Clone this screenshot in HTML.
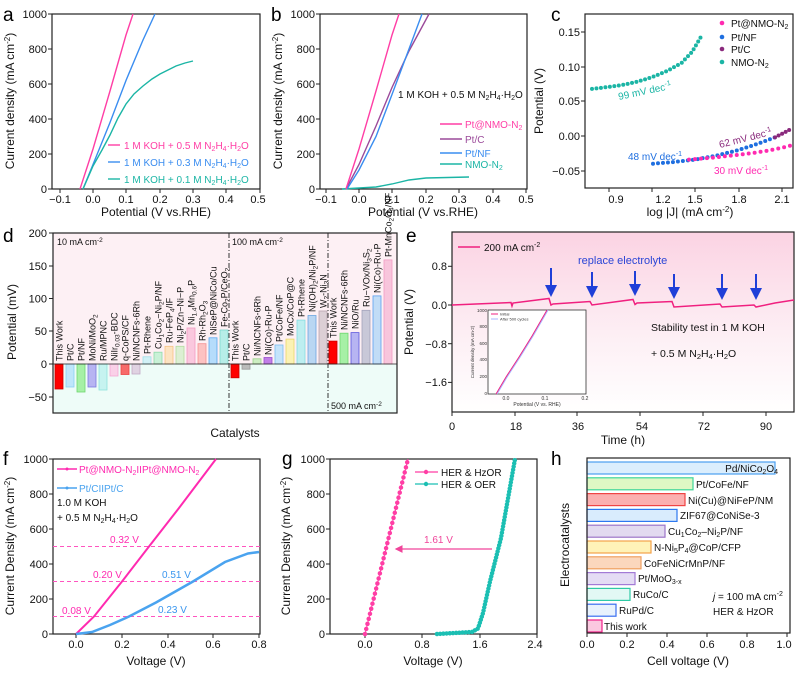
<!DOCTYPE html>
<html><head><meta charset="utf-8"><style>
html,body{margin:0;padding:0;background:#fff}
svg{display:block;font-family:"Liberation Sans",Arial,sans-serif}
.t{font-size:11px;fill:#111}
.ti{font-size:12px;fill:#111}
.pl{font-size:19px;fill:#000}
.s{font-size:10px}
.bl{font-size:9px;fill:#111}
</style></head><body>
<svg width="797" height="673" viewBox="0 0 797 673" xmlns="http://www.w3.org/2000/svg">
<defs>
<linearGradient id="eg" x1="0" y1="0" x2="0" y2="1"><stop offset="0" stop-color="#fbd3e3"/><stop offset="0.6" stop-color="#fdf0f5"/><stop offset="1" stop-color="#ffffff"/></linearGradient>
<marker id="ah" markerWidth="6" markerHeight="6" refX="5" refY="3" orient="auto"><path d="M0,0 L6,3 L0,6 z" fill="#1f3fd8"/></marker>
<marker id="ahp" markerWidth="6" markerHeight="6" refX="5" refY="3" orient="auto"><path d="M0,0 L6,3 L0,6 z" fill="#f0449a"/></marker>
</defs>

<!-- ============ Panel a ============ -->
<text class="pl" x="3" y="21">a</text>
<rect x="52" y="14" width="208" height="175" fill="none" stroke="#222" stroke-width="1.2"/>
<g stroke="#222"><line x1="60" y1="189" x2="60" y2="193"/><line x1="93" y1="189" x2="93" y2="193"/><line x1="126" y1="189" x2="126" y2="193"/><line x1="160" y1="189" x2="160" y2="193"/><line x1="193" y1="189" x2="193" y2="193"/><line x1="226" y1="189" x2="226" y2="193"/><line x1="260" y1="189" x2="260" y2="193"/>
<line x1="48" y1="189" x2="52" y2="189"/><line x1="48" y1="154" x2="52" y2="154"/><line x1="48" y1="119" x2="52" y2="119"/><line x1="48" y1="84" x2="52" y2="84"/><line x1="48" y1="49" x2="52" y2="49"/><line x1="48" y1="14" x2="52" y2="14"/></g>
<g class="t" text-anchor="middle"><text x="60" y="203">−0.1</text><text x="93" y="203">0.0</text><text x="126" y="203">0.1</text><text x="160" y="203">0.2</text><text x="193" y="203">0.3</text><text x="226" y="203">0.4</text><text x="258" y="203">0.5</text></g>
<g class="t" text-anchor="end"><text x="47" y="193">0</text><text x="47" y="158">200</text><text x="47" y="123">400</text><text x="47" y="88">600</text><text x="47" y="53">800</text><text x="47" y="18">1000</text></g>
<text class="ti" x="156" y="216" text-anchor="middle">Potential (V vs.RHE)</text>
<text class="ti" transform="translate(14,101) rotate(-90)" text-anchor="middle">Current density (mA cm<tspan font-size="8" dy="-4">-2</tspan><tspan dy="4">)</tspan></text>
<polyline fill="none" stroke="#ff3ea5" stroke-width="1.4" points="80,189 93,149 110,91 126,35 133,14"/>
<polyline fill="none" stroke="#3a8df0" stroke-width="1.4" points="83,189 93,164.5 110,122.5 126,80.5 143,40 155,14"/>
<polyline fill="none" stroke="#1bb5a5" stroke-width="1.4" points="83,189 93,166 102,150 110,135 118,118 126,104 134,94 143,86 152,79 160,74 168,70 176,66 185,63 193,61"/>
<line x1="108" y1="145" x2="120" y2="145" stroke="#ff3ea5" stroke-width="1.4"/>
<line x1="108" y1="162" x2="120" y2="162" stroke="#3a8df0" stroke-width="1.4"/>
<line x1="108" y1="179" x2="120" y2="179" stroke="#1bb5a5" stroke-width="1.4"/>
<text class="s" x="124" y="149" fill="#ff3ea5">1 M KOH + 0.5 M N<tspan font-size="7" dy="2">2</tspan><tspan dy="-2">H</tspan><tspan font-size="7" dy="2">4</tspan><tspan dy="-2">·H</tspan><tspan font-size="7" dy="2">2</tspan><tspan dy="-2">O</tspan></text>
<text class="s" x="124" y="166" fill="#3a8df0">1 M KOH + 0.3 M N<tspan font-size="7" dy="2">2</tspan><tspan dy="-2">H</tspan><tspan font-size="7" dy="2">4</tspan><tspan dy="-2">·H</tspan><tspan font-size="7" dy="2">2</tspan><tspan dy="-2">O</tspan></text>
<text class="s" x="124" y="183" fill="#1bb5a5">1 M KOH + 0.1 M N<tspan font-size="7" dy="2">2</tspan><tspan dy="-2">H</tspan><tspan font-size="7" dy="2">4</tspan><tspan dy="-2">·H</tspan><tspan font-size="7" dy="2">2</tspan><tspan dy="-2">O</tspan></text>

<!-- ============ Panel b ============ -->
<text class="pl" x="271" y="21">b</text>
<rect x="320" y="14" width="207" height="175" fill="none" stroke="#222" stroke-width="1.2"/>
<g stroke="#222"><line x1="326" y1="189" x2="326" y2="193"/><line x1="359" y1="189" x2="359" y2="193"/><line x1="392" y1="189" x2="392" y2="193"/><line x1="426" y1="189" x2="426" y2="193"/><line x1="459" y1="189" x2="459" y2="193"/><line x1="493" y1="189" x2="493" y2="193"/><line x1="526" y1="189" x2="526" y2="193"/>
<line x1="316" y1="189" x2="320" y2="189"/><line x1="316" y1="154" x2="320" y2="154"/><line x1="316" y1="119" x2="320" y2="119"/><line x1="316" y1="84" x2="320" y2="84"/><line x1="316" y1="49" x2="320" y2="49"/><line x1="316" y1="14" x2="320" y2="14"/></g>
<g class="t" text-anchor="middle"><text x="326" y="203">−0.1</text><text x="359" y="203">0.0</text><text x="392" y="203">0.1</text><text x="426" y="203">0.2</text><text x="459" y="203">0.3</text><text x="493" y="203">0.4</text><text x="526" y="203">0.5</text></g>
<g class="t" text-anchor="end"><text x="315" y="193">0</text><text x="315" y="158">200</text><text x="315" y="123">400</text><text x="315" y="88">600</text><text x="315" y="53">800</text><text x="315" y="18">1000</text></g>
<text class="ti" x="423" y="216" text-anchor="middle">Potential (V vs.RHE)</text>
<text class="ti" transform="translate(282,101) rotate(-90)" text-anchor="middle">Current density (mA cm<tspan font-size="8" dy="-4">-2</tspan><tspan dy="4">)</tspan></text>
<polyline fill="none" stroke="#1bb5a5" stroke-width="1.4" points="342,189 376,187 392,184 409,180 426,178 469,177"/>
<polyline fill="none" stroke="#9b4a9a" stroke-width="1.4" points="346,189 359,164.5 376,126 392,87.5 409,51 429,14"/>
<polyline fill="none" stroke="#3a8df0" stroke-width="1.4" points="347,189 359,170 376,136.5 392,94.5 409,49 422,14"/>
<polyline fill="none" stroke="#ff3ea5" stroke-width="1.4" points="346,189 359,149 376,91 392,35 399,14"/>
<text class="s" x="398" y="98" fill="#111">1 M KOH + 0.5 M N<tspan font-size="7" dy="2">2</tspan><tspan dy="-2">H</tspan><tspan font-size="7" dy="2">4</tspan><tspan dy="-2">·H</tspan><tspan font-size="7" dy="2">2</tspan><tspan dy="-2">O</tspan></text>
<line x1="440" y1="124" x2="462" y2="124" stroke="#ff3ea5" stroke-width="1.4"/>
<line x1="440" y1="139" x2="462" y2="139" stroke="#9b4a9a" stroke-width="1.4"/>
<line x1="440" y1="153" x2="462" y2="153" stroke="#3a8df0" stroke-width="1.4"/>
<line x1="440" y1="164" x2="462" y2="164" stroke="#1bb5a5" stroke-width="1.4"/>
<text class="s" x="465" y="128" fill="#ff3ea5">Pt@NMO-N<tspan font-size="7" dy="2">2</tspan></text>
<text class="s" x="465" y="143" fill="#9b4a9a">Pt/C</text>
<text class="s" x="465" y="157" fill="#3a8df0">Pt/NF</text>
<text class="s" x="465" y="168" fill="#1bb5a5">NMO-N<tspan font-size="7" dy="2">2</tspan></text>

<!-- ============ Panel c ============ -->
<text class="pl" x="551" y="21">c</text>
<rect x="585" y="14" width="208" height="174" fill="none" stroke="#222" stroke-width="1.2"/>
<g stroke="#222"><line x1="609" y1="188" x2="609" y2="192"/><line x1="652" y1="188" x2="652" y2="192"/><line x1="695" y1="188" x2="695" y2="192"/><line x1="739" y1="188" x2="739" y2="192"/><line x1="782" y1="188" x2="782" y2="192"/>
<line x1="581" y1="32" x2="585" y2="32"/><line x1="581" y1="67" x2="585" y2="67"/><line x1="581" y1="101" x2="585" y2="101"/><line x1="581" y1="136" x2="585" y2="136"/><line x1="581" y1="171" x2="585" y2="171"/></g>
<g class="t" text-anchor="middle"><text x="616" y="203">0.9</text><text x="663" y="203">1.2</text><text x="695" y="203">1.5</text><text x="739" y="203">1.8</text><text x="782" y="203">2.1</text></g>
<g class="t" text-anchor="end"><text x="580" y="36">0.15</text><text x="580" y="71">0.10</text><text x="580" y="105">0.05</text><text x="580" y="140">0.00</text><text x="580" y="175">−0.05</text></g>
<text class="ti" x="690" y="216" text-anchor="middle">log |J| (mA cm<tspan font-size="8" dy="-4">-2</tspan><tspan dy="4">)</tspan></text>
<text class="ti" transform="translate(543,101) rotate(-90)" text-anchor="middle">Potential (V)</text>
<polyline fill="none" stroke="#1bb5a5" stroke-width="4" stroke-linecap="round" stroke-dasharray="0 4.5" points="592,88.9 608,87 624,84.7 638,81.5 652.5,77 667,71 681.5,63 692,52 701.7,35.5"/>
<polyline fill="none" stroke="#1f6fe0" stroke-width="4" stroke-linecap="round" stroke-dasharray="0 5" points="653,163.7 674,162 695,159.6 717,155.5 739,149.9 757,144 774.8,137.4"/>
<polyline fill="none" stroke="#8a2a7d" stroke-width="4" stroke-linecap="round" stroke-dasharray="0 4" points="775,137.4 783.5,133 792,128.4"/>
<polyline fill="none" stroke="#ff2ab0" stroke-width="4" stroke-linecap="round" stroke-dasharray="0 6" points="689,159.6 714,157.5 739,154.7 754,152.8 768,150.6 781,148 793,145"/>
<text class="s" fill="#1bb5a5" transform="translate(619,100) rotate(-12)">99 mV dec<tspan font-size="7" dy="-4">-1</tspan></text>
<text class="s" fill="#1f6fe0" x="628" y="160">48 mV dec<tspan font-size="7" dy="-4">-1</tspan></text>
<text class="s" fill="#8a2a7d" transform="translate(720,148) rotate(-14)">62 mV dec<tspan font-size="7" dy="-4">-1</tspan></text>
<text class="s" fill="#ff2ab0" x="714" y="174">30 mV dec<tspan font-size="7" dy="-4">-1</tspan></text>
<circle cx="722" cy="23" r="2.3" fill="#ff2ab0"/><circle cx="722" cy="37" r="2.3" fill="#1f6fe0"/><circle cx="722" cy="49" r="2.3" fill="#8a2a7d"/><circle cx="722" cy="62" r="2.3" fill="#1bb5a5"/>
<text class="s" x="731" y="27" fill="#111">Pt@NMO-N<tspan font-size="7" dy="2">2</tspan></text>
<text class="s" x="731" y="41" fill="#111">Pt/NF</text>
<text class="s" x="731" y="53" fill="#111">Pt/C</text>
<text class="s" x="731" y="66" fill="#111">NMO-N<tspan font-size="7" dy="2">2</tspan></text>

<!-- ============ Panel d ============ -->
<text class="pl" x="3" y="242">d</text>
<rect x="53" y="233" width="344" height="131" fill="#fdf0f4"/>
<rect x="53" y="364" width="344" height="49" fill="#eefcf8"/>
<g stroke-width="0.8">
<rect x="55" y="364" width="8" height="25" fill="#f00" stroke="#c00"/>
<rect x="66" y="364" width="8" height="23" fill="#bfe6fb" stroke="#8cd0f4"/>
<rect x="77" y="364" width="8" height="28" fill="#a6f0a6" stroke="#6fd66f"/>
<rect x="88" y="364" width="8" height="23" fill="#b7b4f2" stroke="#7c78e0"/>
<rect x="99" y="364" width="8" height="26" fill="#c6f3f0" stroke="#8fe3dd"/>
<rect x="110" y="364" width="8" height="12" fill="#fad0e8" stroke="#f4a6d2"/>
<rect x="121" y="364" width="8" height="10.5" fill="#f76a6a" stroke="#e44"/>
<rect x="132" y="364" width="8" height="10" fill="#e0d2e2" stroke="#c2a9c6"/>
<rect x="143" y="356.8" width="8" height="7.2" fill="#d2f1f6" stroke="#9fdfe8"/>
<rect x="154" y="352.2" width="8" height="11.8" fill="#c9f1d7" stroke="#8fdcaa"/>
<rect x="165" y="346.3" width="8" height="17.7" fill="#fce3c2" stroke="#f6c384"/>
<rect x="176" y="346.3" width="8" height="17.7" fill="#dcefd3" stroke="#b3dca0"/>
<rect x="187" y="328" width="8" height="36" fill="#fac8de" stroke="#f39cc2"/>
<rect x="198" y="343.7" width="8" height="20.3" fill="#fcc2c2" stroke="#f49090"/>
<rect x="209" y="337.8" width="8" height="26.2" fill="#b5dcfb" stroke="#5aa8f0"/>
<rect x="220" y="330" width="8" height="34" fill="#b7eee8" stroke="#7cd9cd"/>
<rect x="231" y="364" width="8" height="13.8" fill="#f00" stroke="#c00"/>
<rect x="242" y="364" width="8" height="5.2" fill="#bbbbbb" stroke="#999"/>
<rect x="253" y="358.8" width="8" height="5.2" fill="#cdeec2" stroke="#9ad38a"/>
<rect x="264" y="357.5" width="8" height="6.5" fill="#c27ee8" stroke="#9a4fd0"/>
<rect x="275" y="345" width="8" height="19" fill="#c4e4fb" stroke="#7cbff2"/>
<rect x="286" y="339.1" width="8" height="24.9" fill="#fbf2b4" stroke="#ecd76a"/>
<rect x="297" y="320.1" width="8" height="43.9" fill="#bdeef0" stroke="#85dce0"/>
<rect x="308" y="315.5" width="8" height="48.5" fill="#b9d6f2" stroke="#6ca6e0"/>
<rect x="319" y="311" width="8" height="53" fill="#dccfd5" stroke="#b9a4ae"/>
<rect x="329" y="341.1" width="8" height="22.9" fill="#f00" stroke="#c00"/>
<rect x="340" y="333.2" width="8" height="30.8" fill="#a6f0a6" stroke="#6fd66f"/>
<rect x="351" y="332.6" width="8" height="31.4" fill="#b7b4f2" stroke="#5b55dd"/>
<rect x="362" y="310.3" width="8" height="53.7" fill="#c8c8d8" stroke="#a3a3bb"/>
<rect x="373" y="295.9" width="8" height="68.1" fill="#c1dcf6" stroke="#5aa0f0"/>
<rect x="384" y="259.9" width="8" height="104.1" fill="#f8c5dc" stroke="#f29cc2"/>
</g>
<line x1="53" y1="364" x2="397" y2="364" stroke="#222" stroke-width="0.8"/>
<line x1="229" y1="233" x2="229" y2="413" stroke="#333" stroke-dasharray="5 2 1 2"/>
<line x1="328" y1="233" x2="328" y2="413" stroke="#333" stroke-dasharray="5 2 1 2"/>
<rect x="53" y="233" width="344" height="180" fill="none" stroke="#222" stroke-width="1.2"/>
<g stroke="#222"><line x1="49" y1="233" x2="53" y2="233"/><line x1="49" y1="266" x2="53" y2="266"/><line x1="49" y1="298.5" x2="53" y2="298.5"/><line x1="49" y1="331" x2="53" y2="331"/><line x1="49" y1="364" x2="53" y2="364"/><line x1="49" y1="397" x2="53" y2="397"/></g>
<g class="t" text-anchor="end"><text x="47" y="237">200</text><text x="47" y="270">150</text><text x="47" y="302.5">100</text><text x="47" y="335">50</text><text x="47" y="368">0</text><text x="47" y="401">−50</text></g>
<text class="ti" transform="translate(16,322) rotate(-90)" text-anchor="middle">Potential (mV)</text>
<text class="ti" x="235" y="437" text-anchor="middle">Catalysts</text>
<text class="bl" x="57" y="245">10 mA cm<tspan font-size="6.5" dy="-3">-2</tspan></text>
<text class="bl" x="232" y="245">100 mA cm<tspan font-size="6.5" dy="-3">-2</tspan></text>
<text class="bl" x="331" y="409">500 mA cm<tspan font-size="6.5" dy="-3">-2</tspan></text>
<g class="bl">
<text transform="translate(62.5,361) rotate(-90)">This Work</text>
<text transform="translate(73.5,361) rotate(-90)">Pt/C</text>
<text transform="translate(84.5,361) rotate(-90)">Pt/NF</text>
<text transform="translate(95.5,361) rotate(-90)">MoNi/MoO<tspan font-size="6.5" dy="2">2</tspan></text>
<text transform="translate(106.5,361) rotate(-90)">Ru/MPNC</text>
<text transform="translate(117.5,361) rotate(-90)">NiIr<tspan font-size="6.5" dy="2">0.03</tspan><tspan dy="-2">-BDC</tspan></text>
<text transform="translate(128.5,361) rotate(-90)">q-CoPS/CF</text>
<text transform="translate(139.5,361) rotate(-90)">Ni/NCNFs-6Rh</text>
<text transform="translate(150.5,354) rotate(-90)">Pt-Rhene</text>
<text transform="translate(161.5,349) rotate(-90)">Cu<tspan font-size="6.5" dy="2">1</tspan><tspan dy="-2">Co</tspan><tspan font-size="6.5" dy="2">2</tspan><tspan dy="-2">−Ni</tspan><tspan font-size="6.5" dy="2">2</tspan><tspan dy="-2">P/NF</tspan></text>
<text transform="translate(172.5,343) rotate(-90)">Ru-FeP<tspan font-size="6.5" dy="2">4</tspan><tspan dy="-2">/IF</tspan></text>
<text transform="translate(183.5,343) rotate(-90)">Ni<tspan font-size="6.5" dy="2">2</tspan><tspan dy="-2">P/Zn−Ni−P</tspan></text>
<text transform="translate(194.5,325) rotate(-90)">Ni<tspan font-size="6.5" dy="2">1.4</tspan><tspan dy="-2">Mn</tspan><tspan font-size="6.5" dy="2">0.6</tspan><tspan dy="-2">P</tspan></text>
<text transform="translate(205.5,341) rotate(-90)">Rh-Rh<tspan font-size="6.5" dy="2">2</tspan><tspan dy="-2">O</tspan><tspan font-size="6.5" dy="2">3</tspan></text>
<text transform="translate(216.5,335) rotate(-90)">NiSeP@NiCo/Cu</text>
<text transform="translate(227.5,327) rotate(-90)">Fe-Co<tspan font-size="6.5" dy="2">2</tspan><tspan dy="-2">P/CeO</tspan><tspan font-size="6.5" dy="2">2</tspan></text>
<text transform="translate(238.5,361) rotate(-90)">This Work</text>
<text transform="translate(249.5,361) rotate(-90)">Pt/C</text>
<text transform="translate(260.5,356) rotate(-90)">Ni/NCNFs-6Rh</text>
<text transform="translate(271.5,355) rotate(-90)">Ni(Co)-Ru-P</text>
<text transform="translate(282.5,342) rotate(-90)">Pt/CoFe/NF</text>
<text transform="translate(293.5,336) rotate(-90)">MoCx/CoP@C</text>
<text transform="translate(304.5,317) rotate(-90)">Pt-Rhene</text>
<text transform="translate(315.5,312) rotate(-90)">Ni(OH)<tspan font-size="6.5" dy="2">2</tspan><tspan dy="-2">/Ni</tspan><tspan font-size="6.5" dy="2">2</tspan><tspan dy="-2">P/NF</tspan></text>
<text transform="translate(326.5,308) rotate(-90)">W<tspan font-size="6.5" dy="2">2</tspan><tspan dy="-2">-Ni</tspan><tspan font-size="6.5" dy="2">3</tspan><tspan dy="-2">N</tspan></text>
<text transform="translate(336.5,338) rotate(-90)">This Work</text>
<text transform="translate(347.5,330) rotate(-90)">Ni/NCNFs-6Rh</text>
<text transform="translate(358.5,329) rotate(-90)">NiO/Ru</text>
<text transform="translate(369.5,307) rotate(-90)">Ru−VOx/Ni<tspan font-size="6.5" dy="2">3</tspan><tspan dy="-2">S</tspan><tspan font-size="6.5" dy="2">2</tspan></text>
<text transform="translate(380.5,293) rotate(-90)">Ni(Co)-Ru-P</text>
<text transform="translate(391.5,257) rotate(-90)">Pt-MnCo<tspan font-size="6.5" dy="2">2</tspan><tspan dy="-2">O</tspan><tspan font-size="6.5" dy="2">4</tspan><tspan dy="-2">/NF</tspan></text>
</g>

<!-- ============ Panel e ============ -->
<text class="pl" x="406" y="242">e</text>
<rect x="452" y="232" width="342" height="180" fill="url(#eg)"/>
<rect x="452" y="232" width="342" height="180" fill="none" stroke="#222" stroke-width="1.2"/>
<g stroke="#222"><line x1="452" y1="412" x2="452" y2="416"/><line x1="515" y1="412" x2="515" y2="416"/><line x1="577" y1="412" x2="577" y2="416"/><line x1="640" y1="412" x2="640" y2="416"/><line x1="703" y1="412" x2="703" y2="416"/><line x1="766" y1="412" x2="766" y2="416"/>
<line x1="448" y1="266.3" x2="452" y2="266.3"/><line x1="448" y1="305" x2="452" y2="305"/><line x1="448" y1="343.7" x2="452" y2="343.7"/><line x1="448" y1="382.4" x2="452" y2="382.4"/></g>
<g class="t" text-anchor="middle"><text x="452" y="430">0</text><text x="516" y="430">18</text><text x="578" y="430">36</text><text x="642" y="430">54</text><text x="704" y="430">72</text><text x="766" y="430">90</text></g>
<g class="t" text-anchor="end"><text x="447" y="270">0.8</text><text x="447" y="309">0.0</text><text x="447" y="348">−0.8</text><text x="447" y="386">−1.6</text></g>
<text class="ti" x="623" y="444" text-anchor="middle">Time (h)</text>
<text class="ti" transform="translate(413,322) rotate(-90)" text-anchor="middle">Potential (V)</text>
<polyline fill="none" stroke="#f0207f" stroke-width="1.5" points="452,305 511,302.5 512,306 513,303 549,298.5 551,305 553,304 590,301.5 592,305 633,299.5 635,304.5 637,303 672,301.5 674,307 720,304 722,307 754,305 756,307 775,303 794,300"/>
<g stroke="#1f3fd8" stroke-width="2" marker-end="url(#ah)"><line x1="551" y1="268" x2="551" y2="295"/><line x1="592" y1="272" x2="592" y2="296"/><line x1="635" y1="271" x2="635" y2="294"/><line x1="674" y1="274" x2="674" y2="297"/><line x1="722" y1="274" x2="722" y2="298"/><line x1="756" y1="274" x2="756" y2="298"/></g>
<text x="578" y="264" font-size="11" fill="#2a45d6">replace electrolyte</text>
<line x1="458" y1="247" x2="480" y2="247" stroke="#f0207f" stroke-width="1.5"/>
<text x="484" y="251" font-size="10" fill="#111">200 mA cm<tspan font-size="7" dy="-4">-2</tspan></text>
<text x="651" y="331" font-size="10.5" fill="#111">Stability test  in 1 M KOH</text>
<text x="651" y="357" font-size="10.5" fill="#111">+ 0.5 M N<tspan font-size="7.5" dy="2">2</tspan><tspan dy="-2">H</tspan><tspan font-size="7.5" dy="2">4</tspan><tspan dy="-2">·H</tspan><tspan font-size="7.5" dy="2">2</tspan><tspan dy="-2">O</tspan></text>
<rect x="488" y="310" width="98" height="84" fill="#fff" stroke="#333" stroke-width="0.8"/>
<polyline fill="none" stroke="#aab4ff" stroke-width="1.2" points="497,394 507,377 520,357 533,336 548,310"/>
<polyline fill="none" stroke="#f0207f" stroke-width="0.9" points="496,394 506,377 519,357 532,336 547,310"/>
<g font-size="5" fill="#333" text-anchor="middle"><text x="506" y="400">0.0</text><text x="545" y="400">0.1</text><text x="585" y="400">0.2</text><text x="537" y="406">Potential (V vs. RHE)</text></g>
<g font-size="4.5" fill="#333" text-anchor="end"><text x="487" y="395">0</text><text x="487" y="378">200</text><text x="487" y="361">400</text><text x="487" y="345">600</text><text x="487" y="328">800</text><text x="487" y="312">1000</text></g>
<text font-size="4.5" fill="#333" transform="translate(474,352) rotate(-90)" text-anchor="middle">Current density (mA cm-2)</text>
<line x1="491" y1="314" x2="498" y2="314" stroke="#f0207f"/><text x="500" y="315.5" font-size="4" fill="#333">Initial</text>
<line x1="491" y1="319" x2="498" y2="319" stroke="#aab4ff"/><text x="500" y="320.5" font-size="4" fill="#333">After 500 cycles</text>

<!-- ============ Panel f ============ -->
<text class="pl" x="3" y="465">f</text>
<rect x="53" y="459" width="207" height="175" fill="none" stroke="#222" stroke-width="1.2"/>
<g stroke="#222"><line x1="76" y1="634" x2="76" y2="638"/><line x1="122" y1="634" x2="122" y2="638"/><line x1="168" y1="634" x2="168" y2="638"/><line x1="213" y1="634" x2="213" y2="638"/><line x1="259" y1="634" x2="259" y2="638"/>
<line x1="49" y1="634" x2="53" y2="634"/><line x1="49" y1="599" x2="53" y2="599"/><line x1="49" y1="564" x2="53" y2="564"/><line x1="49" y1="529" x2="53" y2="529"/><line x1="49" y1="494" x2="53" y2="494"/><line x1="49" y1="459" x2="53" y2="459"/></g>
<g class="t" text-anchor="middle"><text x="76" y="648">0.0</text><text x="122" y="648">0.2</text><text x="168" y="648">0.4</text><text x="213" y="648">0.6</text><text x="259" y="648">0.8</text></g>
<g class="t" text-anchor="end"><text x="48" y="638">0</text><text x="48" y="603">200</text><text x="48" y="568">400</text><text x="48" y="533">600</text><text x="48" y="498">800</text><text x="48" y="463">1000</text></g>
<text class="ti" x="156" y="665" text-anchor="middle">Voltage (V)</text>
<text class="ti" transform="translate(14,546) rotate(-90)" text-anchor="middle">Current Density (mA cm<tspan font-size="8" dy="-4">-2</tspan><tspan dy="4">)</tspan></text>
<g stroke="#ff55c0" stroke-dasharray="4 3" stroke-width="1"><line x1="53" y1="616.5" x2="260" y2="616.5"/><line x1="53" y1="581.5" x2="260" y2="581.5"/><line x1="53" y1="546.5" x2="260" y2="546.5"/></g>
<polyline fill="none" stroke="#ff2ab0" stroke-width="2" points="76,634 94,616.5 122,581.5 149,546.5 179,508 216,459"/>
<polyline fill="none" stroke="#4aa3ef" stroke-width="2.5" points="76,634 92,632 110,625 129,616.5 156,602.5 193,581.5 225,562 248,553.5 259,552"/>
<g class="s"><text x="110" y="543" fill="#ff2ab0">0.32 V</text><text x="93" y="578" fill="#ff2ab0">0.20 V</text><text x="62" y="614" fill="#ff2ab0">0.08 V</text><text x="162" y="578" fill="#3a96ee">0.51 V</text><text x="158" y="613" fill="#3a96ee">0.23 V</text></g>
<line x1="57" y1="469" x2="77" y2="469" stroke="#ff2ab0" stroke-width="1.5"/><circle cx="67" cy="469" r="1.5" fill="#ff2ab0"/>
<line x1="57" y1="488" x2="77" y2="488" stroke="#4aa3ef" stroke-width="1.5"/><circle cx="67" cy="488" r="1.5" fill="#4aa3ef"/>
<text class="s" x="79" y="473" fill="#ff2ab0">Pt@NMO-N<tspan font-size="7" dy="2">2</tspan><tspan dy="-2">IIPt@NMO-N</tspan><tspan font-size="7" dy="2">2</tspan></text>
<text class="s" x="79" y="492" fill="#4aa3ef">Pt/CIIPt/C</text>
<text class="s" x="57" y="506" fill="#111">1.0 M KOH</text>
<text class="s" x="57" y="521" fill="#111">+ 0.5 M N<tspan font-size="7" dy="2">2</tspan><tspan dy="-2">H</tspan><tspan font-size="7" dy="2">4</tspan><tspan dy="-2">·H</tspan><tspan font-size="7" dy="2">2</tspan><tspan dy="-2">O</tspan></text>

<!-- ============ Panel g ============ -->
<text class="pl" x="282" y="465">g</text>
<rect x="330" y="459" width="207" height="175" fill="none" stroke="#222" stroke-width="1.2"/>
<g stroke="#222"><line x1="365" y1="634" x2="365" y2="638"/><line x1="422" y1="634" x2="422" y2="638"/><line x1="480" y1="634" x2="480" y2="638"/><line x1="537" y1="634" x2="537" y2="638"/>
<line x1="326" y1="634" x2="330" y2="634"/><line x1="326" y1="599" x2="330" y2="599"/><line x1="326" y1="564" x2="330" y2="564"/><line x1="326" y1="529" x2="330" y2="529"/><line x1="326" y1="494" x2="330" y2="494"/><line x1="326" y1="459" x2="330" y2="459"/></g>
<g class="t" text-anchor="middle"><text x="365" y="648">0.0</text><text x="422" y="648">0.8</text><text x="480" y="648">1.6</text><text x="535" y="648">2.4</text></g>
<g class="t" text-anchor="end"><text x="325" y="638">0</text><text x="325" y="603">200</text><text x="325" y="568">400</text><text x="325" y="533">600</text><text x="325" y="498">800</text><text x="325" y="463">1000</text></g>
<text class="ti" x="433" y="665" text-anchor="middle">Voltage (V)</text>
<text class="ti" transform="translate(290,546) rotate(-90)" text-anchor="middle">Current Density (mA cm<tspan font-size="8" dy="-4">-2</tspan><tspan dy="4">)</tspan></text>
<line x1="365" y1="634" x2="408" y2="459" stroke="#ff3ea5" stroke-width="1"/>
<line x1="365" y1="634" x2="408" y2="459" stroke="#ff3ea5" stroke-width="4.5" stroke-linecap="round" stroke-dasharray="0 5.2"/>
<polyline fill="none" stroke="#1bbfb3" stroke-width="1" points="437,634 472,632 478,628.5 483,613 490,581.5 501,538 515,459"/>
<polyline fill="none" stroke="#1bbfb3" stroke-width="4.5" stroke-linecap="round" stroke-dasharray="0 3.2" points="437,634 472,632 478,628.5 483,613 490,581.5 501,538 515,459"/>
<line x1="492" y1="549" x2="396" y2="549" stroke="#f0449a" stroke-width="1.3" marker-end="url(#ahp)"/>
<text class="s" x="424" y="543" fill="#f0449a">1.61 V</text>
<line x1="415" y1="472" x2="438" y2="472" stroke="#ff3ea5" stroke-width="1.3"/><circle cx="426" cy="472" r="2.2" fill="#ff3ea5"/>
<line x1="415" y1="484" x2="438" y2="484" stroke="#1bbfb3" stroke-width="1.3"/><circle cx="426" cy="484" r="2.2" fill="#1bbfb3"/>
<text class="s" x="441" y="476" fill="#111">HER &amp; HzOR</text>
<text class="s" x="441" y="488" fill="#111">HER &amp; OER</text>

<!-- ============ Panel h ============ -->
<text class="pl" x="551" y="465">h</text>
<g stroke-width="1.2">
<rect x="587" y="462" width="188" height="12" fill="#dbeefd" stroke="#4a9ff0"/>
<rect x="587" y="477.8" width="106" height="12" fill="#def8c4" stroke="#3fd69a"/>
<rect x="587" y="493.6" width="98" height="12" fill="#fbb0b0" stroke="#f04444"/>
<rect x="587" y="509.4" width="90" height="12" fill="#d9ecfd" stroke="#2d78f0"/>
<rect x="587" y="525.2" width="78" height="12" fill="#e2daf0" stroke="#9d75c8"/>
<rect x="587" y="541" width="64" height="12" fill="#fff2b8" stroke="#f3a24a"/>
<rect x="587" y="556.8" width="54" height="12" fill="#fbd7bd" stroke="#f0a060"/>
<rect x="587" y="572.6" width="48" height="12" fill="#e4dcf4" stroke="#a27ad6"/>
<rect x="587" y="588.4" width="43" height="12" fill="#e2f8f4" stroke="#2ecaa6"/>
<rect x="587" y="604.2" width="29" height="12" fill="#e8f2fd" stroke="#3a6ef0"/>
<rect x="587" y="620" width="15" height="12" fill="#fbc8e0" stroke="#f0208a"/>
</g>
<rect x="587" y="458" width="203" height="175" fill="none" stroke="#222" stroke-width="1.2"/>
<g stroke="#222"><line x1="587" y1="633" x2="587" y2="637"/><line x1="627" y1="633" x2="627" y2="637"/><line x1="667" y1="633" x2="667" y2="637"/><line x1="707" y1="633" x2="707" y2="637"/><line x1="747" y1="633" x2="747" y2="637"/><line x1="787" y1="633" x2="787" y2="637"/></g>
<g class="t" text-anchor="middle"><text x="587" y="648">0.0</text><text x="627" y="648">0.2</text><text x="667" y="648">0.4</text><text x="707" y="648">0.6</text><text x="747" y="648">0.8</text><text x="784" y="648">1.0</text></g>
<text class="ti" x="688" y="665" text-anchor="middle">Cell voltage (V)</text>
<text class="ti" transform="translate(569,545) rotate(-90)" text-anchor="middle">Electrocatalysts</text>
<g class="s" fill="#111">
<text x="778" y="472" text-anchor="end">Pd/NiCo<tspan font-size="7" dy="2">2</tspan><tspan dy="-2">O</tspan><tspan font-size="7" dy="2">4</tspan></text>
<text x="696" y="488">Pt/CoFe/NF</text>
<text x="688" y="504">Ni(Cu)@NiFeP/NM</text>
<text x="680" y="519">ZIF67@CoNiSe-3</text>
<text x="668" y="535">Cu<tspan font-size="7" dy="2">1</tspan><tspan dy="-2">Co</tspan><tspan font-size="7" dy="2">2</tspan><tspan dy="-2">–Ni</tspan><tspan font-size="7" dy="2">2</tspan><tspan dy="-2">P/NF</tspan></text>
<text x="654" y="551">N-Ni<tspan font-size="7" dy="2">5</tspan><tspan dy="-2">P</tspan><tspan font-size="7" dy="2">4</tspan><tspan dy="-2">@CoP/CFP</tspan></text>
<text x="644" y="567">CoFeNiCrMnP/NF</text>
<text x="638" y="582">Pt/MoO<tspan font-size="7" dy="2">3-x</tspan></text>
<text x="633" y="598">RuCo/C</text>
<text x="619" y="614">RuPd/C</text>
<text x="604" y="630">This work</text>
<text x="713" y="600"><tspan font-style="italic">j</tspan> = 100 mA cm<tspan font-size="7" dy="-4">-2</tspan></text>
<text x="713" y="615">HER &amp; HzOR</text>
</g>
</svg>
</body></html>
